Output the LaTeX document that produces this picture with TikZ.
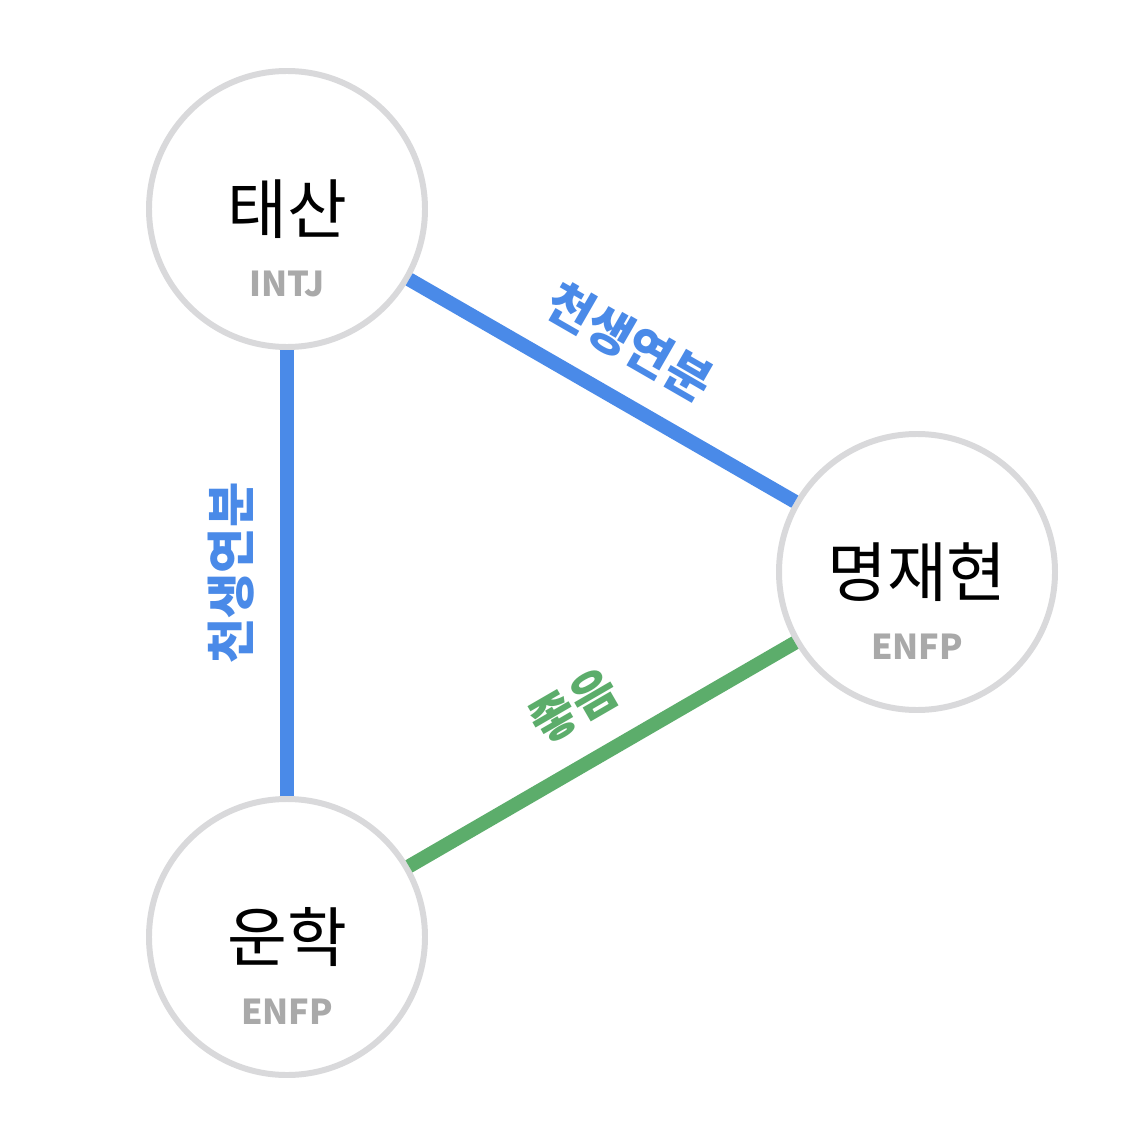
\documentclass[tikz,border=0pt]{standalone}
\usepackage{fontspec}
\setmainfont{Noto Sans CJK KR}
\usetikzlibrary{positioning,backgrounds}
\definecolor{MyBlue}{HTML}{4A8AE8}
\definecolor{MyGreen}{HTML}{5CAD6B}
\definecolor{MyRing}{HTML}{D9D9DB}
\definecolor{MyGray}{HTML}{A9A9A9}
\tikzset{%
  person/.style={circle, draw=MyRing, fill=white, line width=3.4pt, minimum size=5.52cm, inner sep=0pt, font=\fontsize{37}{44}\selectfont},
  mbti/.style={text=MyGray, inner sep=0pt, font=\fontsize{19.5}{23}\selectfont\bfseries},
  link/.style={line width=8pt, draw=#1},
  link label/.style={sloped, midway, above=0.52cm, inner sep=0pt, text=#1, font=\fontsize{28}{33}\selectfont\bfseries}
}

\begin{document}
\begin{tikzpicture}

 \fill[white] (0,0) rectangle (22.86,-22.52);
 \useasboundingbox (0,0) rectangle (22.86,-22.52);

 \node[person] (taesan) at (5.74,-4.18) {태산};
 \node[person] (myeong) at (18.34,-11.44) {명재현};
 \node[person] (unhak) at (5.74,-18.74) {운학};

 \node[mbti] (taesan-t) at ([yshift=-1.5cm]taesan.center) {INTJ};
 \node[mbti] (myeong-t) at ([yshift=-1.5cm]myeong.center) {ENFP};
 \node[mbti] (unhak-t) at ([yshift=-1.5cm]unhak.center) {ENFP};

 \draw[link=MyBlue] (taesan) -- (myeong) node[link label=MyBlue] {천생연분};
 \draw[link=MyBlue] (unhak) -- (taesan) node[link label=MyBlue] {천생연분};
 \draw[link=MyGreen] (unhak) -- (myeong) node[link label=MyGreen] {좋음};

\end{tikzpicture}
\end{document}
